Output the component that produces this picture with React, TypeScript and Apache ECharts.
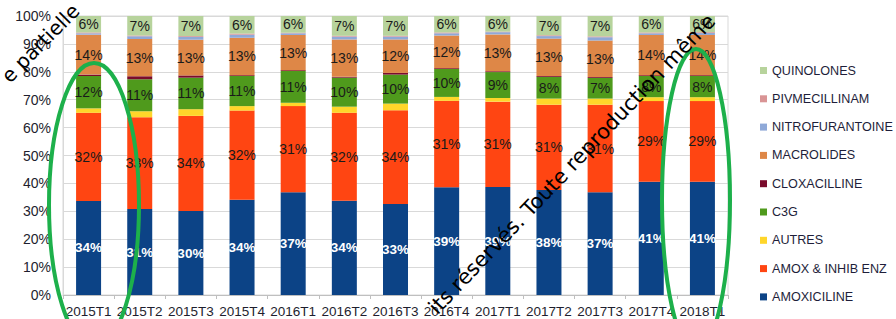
import React, { useEffect, useRef } from "react";
import * as echarts from "echarts";

const categories = ["2015T1","2015T2","2015T3","2015T4","2016T1","2016T2","2016T3","2016T4","2017T1","2017T2","2017T3","2017T4","2018T1"];
const yTicks = [0, 10, 20, 30, 40, 50, 60, 70, 80, 90, 100];

const amoxicilline = [33.7, 30.8, 30.1, 34.1, 36.8, 33.8, 32.6, 38.6, 38.7, 37.6, 36.8, 40.6, 40.6];
const amoxInhib = [31.6, 32.9, 34.1, 32.0, 30.9, 31.5, 33.6, 31.0, 30.6, 30.6, 31.4, 28.9, 28.9];
const autres = [1.6, 2.2, 2.4, 1.6, 1.2, 2.2, 2.4, 1.4, 1.3, 2.2, 2.2, 1.4, 1.4];
const c3g = [11.6, 11.4, 11.3, 10.8, 11.4, 10.4, 10.4, 10.0, 9.3, 7.8, 7.4, 7.6, 7.6];
const cloxacilline = [0.5, 1.1, 0.8, 0.3, 0.3, 0.3, 0.6, 0.3, 0.3, 0.3, 0.3, 0.3, 0.3];
const macrolides = [14.3, 13.4, 12.8, 13.4, 12.6, 13.4, 12.0, 11.7, 13.2, 13.4, 13.1, 14.4, 14.4];
const nitrofurantoine = [0.5, 0.9, 1.0, 1.1, 0.6, 1.0, 1.0, 0.8, 0.8, 0.9, 1.2, 0.6, 0.7];
const pivmecillinam = [0.3, 0.3, 0.3, 0.4, 0.2, 0.3, 0.3, 0.3, 0.2, 0.3, 0.3, 0.3, 0.3];
const quinolones = [5.9, 7.0, 7.2, 6.3, 6.0, 7.1, 7.1, 5.9, 5.6, 6.9, 7.3, 5.9, 5.8];

const seriesNames = ["AMOXICILINE","AMOX & INHIB ENZ","AUTRES","C3G","CLOXACILLINE","MACROLIDES","NITROFURANTOINE","PIVMECILLINAM","QUINOLONES"];
const seriesData = [amoxicilline, amoxInhib, autres, c3g, cloxacilline, macrolides, nitrofurantoine, pivmecillinam, quinolones];
const seriesColors = ["#0c4386","#ff4512","#ffd62a","#4f9a1c","#7a0b2c","#de8747","#8fa9d8","#d99495","#b7d39c"];
const labelled = [true, true, false, true, false, true, false, false, true];

export default function App() {
  const ref = useRef<HTMLDivElement>(null);
  useEffect(() => {
    if (!ref.current) return;
    const chart = echarts.init(ref.current, null, { renderer: "svg" });
    const series = seriesNames.map((name, i) => ({
      name,
      type: "bar",
      stack: "total",
      barWidth: 25,
      data: seriesData[i],
      itemStyle: { color: seriesColors[i] },
      label: labelled[i]
        ? {
            show: true,
            position: "inside",
            formatter: (p: any) => Math.round(p.value) + "%",
            color: i === 0 ? "#ffffff" : "#1a1a1a",
            fontWeight: i === 0 ? "bold" : "normal",
            fontFamily: "Liberation Sans, Arial, sans-serif",
            fontSize: i === 0 ? 13.5 : 14,
          }
        : { show: false },
    }));
    chart.setOption({
      animation: false,
      grid: { left: 63, right: 168, top: 16, bottom: 24, show: true, borderColor: "#d9d9d9", borderWidth: 1 },
      xAxis: {
        type: "category",
        data: categories,
        axisLine: { lineStyle: { color: "#bfbfbf" } },
        axisTick: { show: true, length: 4, lineStyle: { color: "#bfbfbf" } },
        axisLabel: { interval: 0, color: "#1e1e2e", fontSize: 13.5, fontFamily: "Liberation Sans, Arial, sans-serif", margin: 9 },
      },
      yAxis: {
        type: "value",
        min: yTicks[0],
        max: yTicks[yTicks.length - 1],
        interval: 10,
        axisLine: { show: true, lineStyle: { color: "#d9d9d9" } },
        splitLine: { lineStyle: { color: "#d9d9d9" } },
        axisLabel: { formatter: "{value}%", color: "#1e1e2e", fontSize: 14, fontFamily: "Liberation Sans, Arial, sans-serif", margin: 12 },
      },
      legend: {
        orient: "vertical",
        left: 755,
        top: 58,
        itemWidth: 7,
        itemHeight: 7,
        itemGap: 13.3,
        icon: "rect",
        data: [...seriesNames].reverse(),
        textStyle: { color: "#1e1e3a", fontSize: 12.6, lineHeight: 15, fontFamily: "Liberation Sans, Arial, sans-serif" },
      },
      series,
      graphic: [
        {
          type: "ellipse",
          shape: { cx: 94, cy: 205, rx: 45, ry: 142 },
          style: { fill: "none", stroke: "#1db04b", lineWidth: 4 },
          z: 100,
        },
        {
          type: "ellipse",
          shape: { cx: 696, cy: 200, rx: 34, ry: 151 },
          style: { fill: "none", stroke: "#1db04b", lineWidth: 4 },
          z: 100,
        },
        {
          type: "text",
          x: 440,
          y: 318,
          rotation: 0.81,
          z: 101,
          style: {
            text: "its réservés. Toute reproduction même",
            font: "21px DejaVu Sans",
            fill: "#000000",
            textAlign: "left",
            textVerticalAlign: "bottom",
          },
        },
        {
          type: "text",
          x: 12,
          y: 86,
          rotation: 0.79,
          z: 101,
          style: {
            text: "e partielle",
            font: "20px DejaVu Sans",
            fill: "#000000",
            textAlign: "left",
            textVerticalAlign: "bottom",
          },
        },
      ],
    });
    return () => chart.dispose();
  }, []);
  return <div ref={ref} style={{ width: 896, height: 319, position: "absolute", left: 0, top: 0 }} />;
}
